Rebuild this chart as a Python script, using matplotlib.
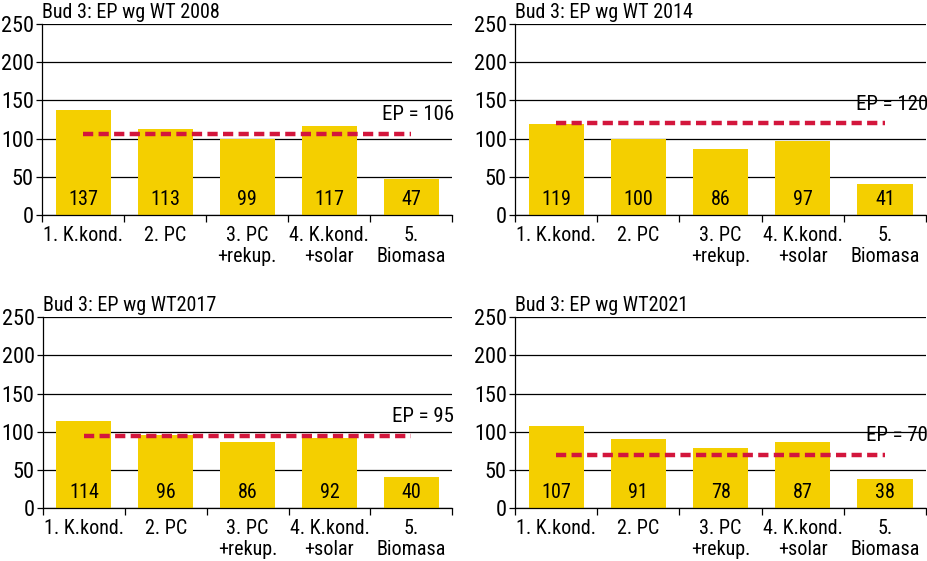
import matplotlib
matplotlib.use("Agg")
import matplotlib.pyplot as plt
from matplotlib import font_manager
import numpy as np

# chart data
categories = ["1. K.kond.", "2. PC", "3. PC\n+rekup.", "4. K.kond.\n+solar", "5.\nBiomasa"]
titles = ["Bud 3: EP wg WT 2008", "Bud 3: EP wg WT 2014", "Bud 3: EP wg WT2017", "Bud 3: EP wg WT2021"]
values_2008 = [137, 113, 99, 117, 47]
values_2014 = [119, 100, 86, 97, 41]
values_2017 = [114, 96, 86, 92, 40]
values_2021 = [107, 91, 78, 87, 38]
ep_values = [106, 120, 95, 70]
y_ticks = [0, 50, 100, 150, 200, 250]

BAR_COLOR = "#F4CF00"
EP_COLOR = "#D3163C"

# pick a narrow sans if available
available = {f.name for f in font_manager.fontManager.ttflist}
for fam in ["Liberation Sans Narrow", "Roboto Condensed", "DejaVu Sans Condensed", "Liberation Sans"]:
    if fam in available:
        FONT = fam
        break
else:
    FONT = "DejaVu Sans"
plt.rcParams["font.family"] = [FONT, "DejaVu Sans"]

fig = plt.figure(figsize=(9.28, 5.61), dpi=100)

# [left, bottom, width, height] in figure fractions
boxes = [
    [0.0453, 0.617, 0.442, 0.340],
    [0.555, 0.617, 0.443, 0.340],
    [0.0463, 0.0945, 0.441, 0.340],
    [0.555, 0.0945, 0.443, 0.340],
]
panel_values = [values_2008, values_2014, values_2017, values_2021]

x = np.arange(len(categories))
for box, title, vals, ep in zip(boxes, titles, panel_values, ep_values):
    ax = fig.add_axes(box)
    ax.set_axisbelow(True)
    ax.yaxis.grid(True, color="black", linewidth=0.9)
    ax.bar(x, vals, width=0.67, color=BAR_COLOR, zorder=2)
    for xi, v in zip(x, vals):
        ax.text(xi, 20, str(v), ha="center", va="center", fontsize=14.5, zorder=3)

    ax.plot([0, len(categories) - 1], [ep, ep], color=EP_COLOR, linewidth=3.2,
            dashes=(2.3, 1.2), zorder=4)
    ax.text(len(categories) - 0.48, ep + 25, f"EP = {ep}", ha="right", va="center",
            fontsize=15, clip_on=False, zorder=5)

    ax.set_xlim(-0.5, len(categories) - 0.5)
    ax.set_ylim(0, 250)
    ax.set_yticks(y_ticks)
    ax.tick_params(axis="y", labelsize=16, length=4, width=0.9, pad=2)

    # category labels centred, tick marks at the boundaries
    ax.set_xticks(x)
    ax.set_xticklabels(categories, fontsize=14.5, linespacing=1.15)
    ax.tick_params(axis="x", which="major", length=0, pad=8)
    ax.set_xticks(np.arange(-0.5, len(categories), 1.0), minor=True)
    ax.tick_params(axis="x", which="minor", length=5, width=0.9)

    for side in ["top", "right"]:
        ax.spines[side].set_visible(False)
    ax.spines["left"].set_linewidth(0.9)
    ax.spines["bottom"].set_linewidth(0.9)

    ax.text(0.0, 1.01, title, transform=ax.transAxes, ha="left", va="bottom",
            fontsize=14.5)

fig.savefig("out.png", dpi=100)
